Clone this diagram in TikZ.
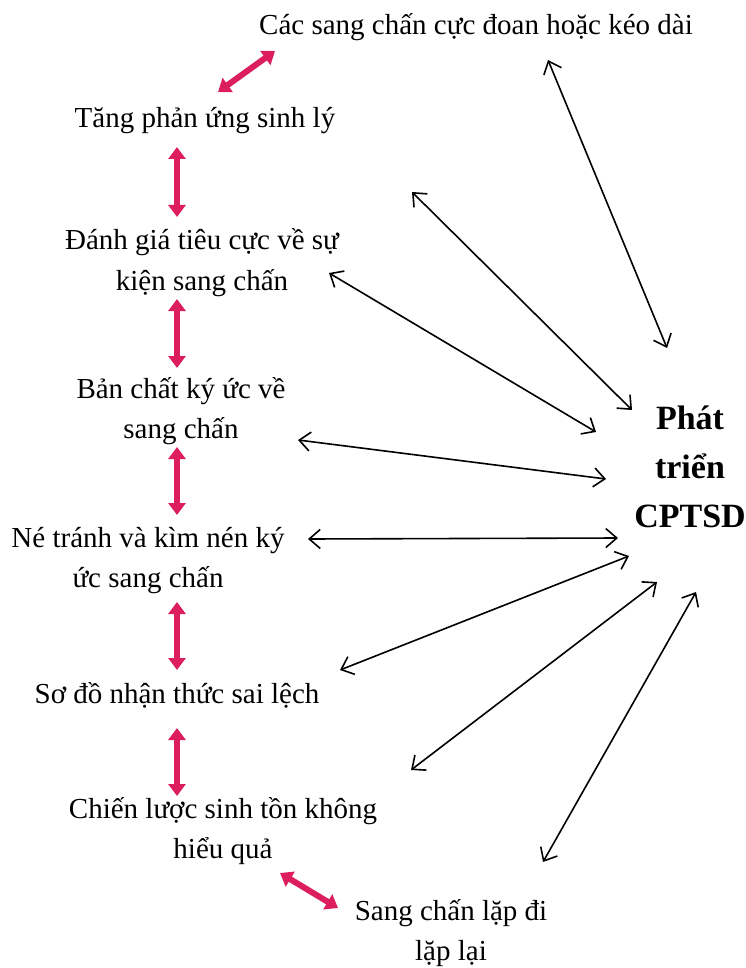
\documentclass[tikz,border=0pt]{standalone}
\usepackage{fontspec}
\setmainfont{Liberation Serif}
\usetikzlibrary{arrows.meta}
\definecolor{pinkarrow}{RGB}{220,30,95}
\begin{document}
\begin{tikzpicture}[x=1pt,y=-1pt,
  lbl/.style={font=\fontsize{29}{40}\selectfont, align=center, inner sep=0pt, anchor=base},
  ctr/.style={font=\bfseries\fontsize{34}{49}\selectfont, align=center, inner sep=0pt, anchor=base},
  blk/.style={line width=1.6pt, {Straight Barb[length=11pt,width=19pt]}-{Straight Barb[length=11pt,width=19pt]}},
  pnk/.style={draw=pinkarrow, fill=pinkarrow, line width=6pt, {Triangle[length=12pt,width=17pt]}-{Triangle[length=12pt,width=17pt]}}
]
\useasboundingbox (0,0) rectangle (745,968);
\fill[white] (0,0) rectangle (745,968);

% text nodes (anchor = baseline of the last line)
\node[lbl] (top) at (476,35) {Các sang chấn cực đoan hoặc kéo dài};
\node[lbl] (n1) at (205,128) {Tăng phản ứng sinh lý};
\node[lbl] (n2) at (202,290) {Đánh giá tiêu cực về sự\\kiện sang chấn};
\node[lbl] (n3) at (181,438) {Bản chất ký ức về\\sang chấn};
\node[lbl] (n4) at (148,587) {Né tránh và kìm nén ký\\ức sang chấn};
\node[lbl] (n5) at (177,703) {Sơ đồ nhận thức sai lệch};
\node[lbl] (n6) at (223,858) {Chiến lược sinh tồn không\\hiểu quả};
\node[lbl] (n7) at (451,960) {Sang chấn lặp đi\\lặp lại};
\node[ctr] (c) at (690,527) {Phát\\triển\\CPTSD};

% pink arrow end points
\coordinate (p0a) at (218,92);  \coordinate (p0b) at (275,51);
\coordinate (p1a) at (177,147); \coordinate (p1b) at (177,217);
\coordinate (p2a) at (177,299); \coordinate (p2b) at (177,368);
\coordinate (p3a) at (177,447); \coordinate (p3b) at (177,515);
\coordinate (p4a) at (177,602); \coordinate (p4b) at (177,670);
\coordinate (p5a) at (177,728); \coordinate (p5b) at (177,796);
\coordinate (p6a) at (280,873); \coordinate (p6b) at (338,908);

\foreach \i in {0,...,6} { \draw[pnk] (p\i a) -- (p\i b); }

% black arrow end points
\coordinate (ba1) at (548,60);  \coordinate (ba2) at (667,348);
\coordinate (bb1) at (412,192); \coordinate (bb2) at (632,410);
\coordinate (bc1) at (329,273); \coordinate (bc2) at (596,432);
\coordinate (bd1) at (298,440); \coordinate (bd2) at (606,479);
\coordinate (be1) at (308,539); \coordinate (be2) at (618,538);
\coordinate (bf1) at (340,670); \coordinate (bf2) at (629,556);
\coordinate (bg1) at (411,770); \coordinate (bg2) at (657,582);
\coordinate (bh1) at (543,862); \coordinate (bh2) at (696,592);

\foreach \k in {a,b,c,d,e,f,g,h} { \draw[blk] (b\k 1) -- (b\k 2); }
\end{tikzpicture}
\end{document}
